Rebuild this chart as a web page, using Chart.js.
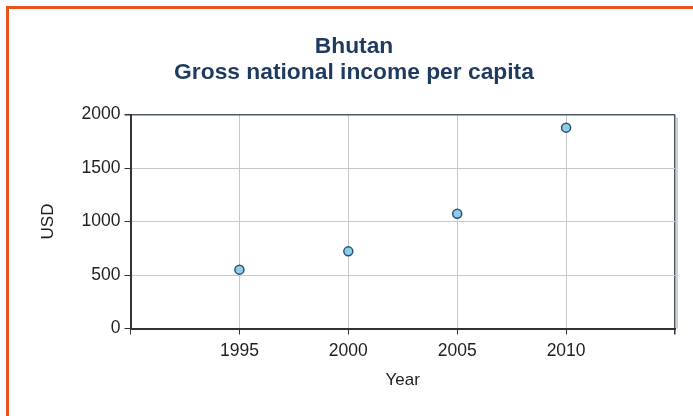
<!DOCTYPE html>
<html>
<head>
<meta charset="utf-8">
<script src="https://cdn.jsdelivr.net/npm/chart.js@4.4.1/dist/chart.umd.min.js"></script>
<style>
  html,body{margin:0;padding:0;background:#fff;overflow:hidden;}
  #frame{position:absolute;left:6px;top:6px;width:720px;height:440px;border-left:3px solid #E8531E;border-top:3px solid #E8531E;box-sizing:border-box;}
  #wrap{position:absolute;left:0;top:0;width:693px;height:416px;}
</style>
</head>
<body>
<div id="frame"></div>
<div id="wrap"><canvas id="c" width="693" height="416"></canvas></div>
<script>
// data
const titleLines = ["Bhutan", "Gross national income per capita"];
const years = [1995, 2000, 2005, 2010];
const gni = [550, 721, 1073, 1877];
const xLabels = [1995, 2000, 2005, 2010];
const yTicks = [0, 500, 1000, 1500, 2000];

const FONT = "'Liberation Sans', Arial, sans-serif";

// two-line title, centred over the figure (not the plot)
const titlePlugin = {
  id: "titleLines",
  afterDraw(chart) {
    const c = chart.ctx;
    c.save();
    c.fillStyle = "#1F3A5F";
    c.font = "bold 22.8px " + FONT;
    c.textAlign = "center";
    c.textBaseline = "alphabetic";
    c.fillText(titleLines[0], 354, 53);
    c.fillText(titleLines[1], 354, 79);
    c.restore();
  }
};

// little drop shadow on the right side of the plot frame
const shadowPlugin = {
  id: "frameShadow",
  beforeDatasetsDraw(chart) {
    const a = chart.chartArea, c = chart.ctx;
    c.save();
    c.fillStyle = "rgba(60,70,80,0.25)";
    c.fillRect(a.right + 1, a.top + 3, 2, a.bottom - a.top - 3);
    c.restore();
  }
};

new Chart(document.getElementById("c"), {
  type: "scatter",
  data: {
    datasets: [{
      data: years.map((y, i) => ({x: y, y: gni[i]})),
      backgroundColor: "#8DCDE8",
      borderColor: "#2F4F6F",
      borderWidth: 1.5,
      pointRadius: 4.5,
      pointHoverRadius: 4.5
    }]
  },
  options: {
    responsive: false,
    animation: false,
    layout: { padding: { top: 114.5, right: 18, left: 0, bottom: 0 } },
    plugins: { legend: { display: false }, title: { display: false }, tooltip: { enabled: false } },
    scales: {
      x: {
        type: "linear",
        min: 1990, max: 2015,
        afterFit: s => { s.height = 87.5; },
        border: { color: "#333", width: 2 },
        grid: {
          color: ctx => ctx.tick && ctx.tick.value === 2015 ? "#4F5A66" : (ctx.tick && ctx.tick.value === 1990 ? "rgba(0,0,0,0)" : "#C8C8C8"),
          lineWidth: ctx => ctx.tick && ctx.tick.value === 2015 ? 1.5 : 1,
          tickColor: "#333",
          tickLength: 6
        },
        ticks: {
          stepSize: 5,
          padding: 6,
          color: "#1E1E1E",
          font: { family: FONT, size: 17.5 },
          maxRotation: 0,
          callback: v => xLabels.includes(v) ? String(v) : ""
        },
        title: { display: true, text: "Year", color: "#1E1E1E", font: { family: FONT, size: 17 }, padding: { top: 0, bottom: 25 } }
      },
      y: {
        min: 0, max: 2000,
        afterFit: s => { s.width = 130.5; },
        afterBuildTicks: s => { s.ticks = yTicks.map(v => ({value: v})); },
        border: { color: "#333", width: 2 },
        grid: {
          color: ctx => ctx.tick && ctx.tick.value === 2000 ? "#4F5A66" : "#C8C8C8",
          lineWidth: ctx => ctx.tick && ctx.tick.value === 2000 ? 1.5 : 1,
          tickColor: "#333",
          tickLength: 6
        },
        ticks: { padding: 4, color: "#1E1E1E", font: { family: FONT, size: 17.5 }, callback: v => String(v) },
        title: { display: true, text: "USD", color: "#1E1E1E", font: { family: FONT, size: 17 }, padding: { top: 38, bottom: 0 } }
      }
    }
  },
  plugins: [shadowPlugin, titlePlugin]
});
</script>
</body>
</html>
